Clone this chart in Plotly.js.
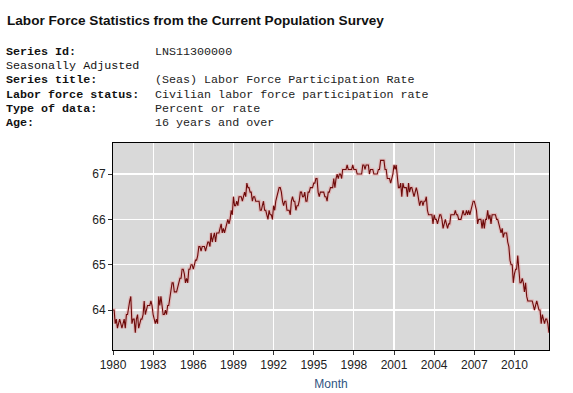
<!DOCTYPE html>
<html>
<head>
<meta charset="utf-8">
<script src="https://cdn.plot.ly/plotly-3.0.1.min.js"></script>
<style>
  html, body { margin: 0; padding: 0; background: #ffffff; }
  #chart { width: 573px; height: 393px; }
</style>
</head>
<body>
<div id="chart"></div>
<script>
// ---- Data (monthly, seasonally adjusted LFPR, Jan 1980 - Aug 2012) ----
var startYear = 1980;
var lfpr = [
  64.0,64.0,63.7,63.8,63.6,63.7,63.8,63.7,63.6,63.7,63.8,63.6, // 1980
  63.9,63.9,64.1,64.2,64.3,63.7,63.8,63.8,63.5,63.8,63.9,63.6, // 1981
  63.7,63.8,63.8,63.9,64.2,63.9,64.0,64.1,64.1,64.1,64.2,64.1, // 1982
  63.9,63.8,63.7,63.8,63.7,64.3,64.1,64.3,64.1,63.9,63.9,64.0, // 1983
  63.9,64.1,64.1,64.3,64.5,64.6,64.6,64.4,64.4,64.4,64.5,64.6, // 1984
  64.7,64.7,64.9,64.9,64.8,64.6,64.7,64.6,64.9,64.9,65.0,65.0, // 1985
  64.9,65.0,65.1,65.1,65.2,65.4,65.4,65.3,65.4,65.4,65.4,65.3, // 1986
  65.4,65.5,65.5,65.4,65.7,65.5,65.6,65.7,65.5,65.7,65.7,65.7, // 1987
  65.8,65.9,65.7,65.8,65.7,65.8,65.9,66.0,65.9,66.0,66.2,66.1, // 1988
  66.5,66.3,66.3,66.4,66.3,66.5,66.5,66.5,66.4,66.5,66.6,66.5, // 1989
  66.8,66.7,66.7,66.6,66.6,66.4,66.5,66.5,66.4,66.4,66.4,66.4, // 1990
  66.2,66.2,66.3,66.4,66.2,66.2,66.1,66.0,66.2,66.1,66.1,66.0, // 1991
  66.3,66.2,66.4,66.5,66.6,66.7,66.7,66.6,66.4,66.3,66.4,66.4, // 1992
  66.2,66.2,66.2,66.1,66.4,66.5,66.4,66.4,66.2,66.3,66.3,66.4, // 1993
  66.6,66.6,66.5,66.5,66.6,66.4,66.4,66.6,66.6,66.7,66.7,66.7, // 1994
  66.8,66.8,66.9,66.9,66.6,66.5,66.6,66.6,66.6,66.6,66.5,66.5, // 1995
  66.4,66.6,66.6,66.7,66.7,66.7,66.9,66.7,66.9,67.0,66.9,67.0, // 1996
  67.0,66.9,67.1,67.1,67.1,67.1,67.2,67.1,67.1,67.1,67.1,67.2, // 1997
  67.1,67.1,67.1,67.0,67.0,67.0,67.0,67.0,67.2,67.2,67.1,67.2, // 1998
  67.2,67.2,67.0,67.1,67.1,67.1,67.0,67.0,67.0,67.0,67.1,67.1, // 1999
  67.3,67.3,67.3,67.3,67.1,67.1,66.9,66.9,66.9,66.8,66.9,67.0, // 2000
  67.2,67.1,67.2,66.9,66.7,66.7,66.8,66.5,66.8,66.7,66.7,66.7, // 2001
  66.5,66.8,66.6,66.7,66.7,66.6,66.5,66.6,66.7,66.6,66.4,66.3, // 2002
  66.4,66.4,66.3,66.4,66.4,66.5,66.2,66.1,66.1,66.1,66.1,65.9, // 2003
  66.1,66.0,66.0,65.9,66.0,66.1,66.1,66.0,65.8,65.9,66.0,65.9, // 2004
  65.8,65.9,65.9,66.1,66.1,66.1,66.1,66.2,66.1,66.1,66.0,66.0, // 2005
  66.0,66.1,66.2,66.1,66.1,66.2,66.1,66.2,66.1,66.2,66.3,66.4, // 2006
  66.4,66.3,66.2,65.9,66.0,66.0,66.0,65.8,66.0,65.8,66.0,66.0, // 2007
  66.2,66.0,66.1,65.9,66.1,66.1,66.1,66.1,66.0,66.0,65.9,65.8, // 2008
  65.7,65.8,65.6,65.7,65.7,65.7,65.5,65.4,65.1,65.0,65.0,64.6, // 2009
  64.8,64.9,64.9,65.2,64.9,64.6,64.6,64.7,64.6,64.4,64.6,64.3, // 2010
  64.2,64.2,64.2,64.2,64.2,64.1,64.0,64.1,64.2,64.1,64.0,64.0, // 2011
  63.7,63.9,63.8,63.7,63.8,63.8,63.7,63.5                      // 2012
];

var xTickYears = ['1980','1983','1986','1989','1992','1995','1998','2001','2004','2007','2010'];
var yTickVals = [64, 65, 66, 67];

var headingText = 'Labor Force Statistics from the Current Population Survey';
var metaLabels = ['Series Id:', 'Seasonally Adjusted', 'Series title:', 'Labor force status:', 'Type of data:', 'Age:'];
var metaValues = ['LNS11300000', '', '(Seas) Labor Force Participation Rate', 'Civilian labor force participation rate', 'Percent or rate', '16 years and over'];
var metaBold = [true, false, true, true, true, true];
var xAxisTitle = 'Month';

// ---- Build dates (category axis for the monthly series) ----
var dates = [];
for (var i = 0; i < lfpr.length; i++) {
  var y = startYear + Math.floor(i / 12);
  var m = (i % 12) + 1;
  dates.push(y + '-' + (m < 10 ? '0' + m : m) + '-01');
}
var tickVals = xTickYears.map(function (y) { return y + '-01-01'; });

// ---- Pixel helpers for text placed outside the plot area ----
var W = 573, H = 393;
var mL = 113, mR = 24, mT = 143, mB = 43;
var pw = W - mL - mR, ph = H - mT - mB;
function px(x) { return (x - mL) / pw; }
function py(y) { return (H - mB - y) / ph; }

var annotations = [];
annotations.push({
  text: '<b>' + headingText + '</b>',
  xref: 'paper', yref: 'paper', x: px(5), y: py(20),
  xanchor: 'left', yanchor: 'middle', showarrow: false,
  font: { family: 'Liberation Sans, Arial, sans-serif', size: 13.6, color: '#111111' }
});
var metaY = [51.7, 66.0, 80.3, 94.6, 108.9, 123.2];
for (var k = 0; k < metaLabels.length; k++) {
  annotations.push({
    text: metaBold[k] ? '<b>' + metaLabels[k] + '</b>' : metaLabels[k],
    xref: 'paper', yref: 'paper', x: px(4), y: py(metaY[k]),
    xanchor: 'left', yanchor: 'middle', showarrow: false,
    font: { family: 'Liberation Mono, Courier New, monospace', size: 11.7, color: '#111111' }
  });
  if (metaValues[k]) {
    annotations.push({
      text: metaValues[k],
      xref: 'paper', yref: 'paper', x: px(153), y: py(metaY[k]),
      xanchor: 'left', yanchor: 'middle', showarrow: false,
      font: { family: 'Liberation Mono, Courier New, monospace', size: 11.7, color: '#222222' }
    });
  }
}

var traces = [
  {
    x: dates, y: lfpr, type: 'scatter', mode: 'lines',
    line: { color: 'rgba(235,130,130,0.35)', width: 3.5 },
    hoverinfo: 'skip', showlegend: false
  },
  {
    x: dates, y: lfpr, type: 'scatter', mode: 'lines',
    line: { color: '#6e0b0b', width: 1.1 },
    name: 'LFPR', showlegend: false
  }
];

var layout = {
  width: W, height: H,
  margin: { l: mL, r: mR, t: mT, b: mB, pad: 0 },
  paper_bgcolor: '#ffffff',
  plot_bgcolor: '#d9d9d9',
  showlegend: false,
  xaxis: {
    type: 'date',
    range: [dates[0], dates[dates.length - 1]],
    tickmode: 'array', tickvals: tickVals, ticktext: xTickYears,
    showgrid: true, gridcolor: '#ffffff', gridwidth: 1.2,
    zeroline: false,
    showline: true, linecolor: '#000000', linewidth: 1, mirror: true,
    ticks: 'outside', ticklen: 4, tickcolor: '#333333',
    tickfont: { family: 'Liberation Sans, Arial, sans-serif', size: 12, color: '#222222' },
    title: { text: xAxisTitle, standoff: 8,
             font: { family: 'Liberation Sans, Arial, sans-serif', size: 12, color: '#2f5482' } },
    automargin: false
  },
  yaxis: {
    range: [63.118, 67.684],
    tickmode: 'array', tickvals: yTickVals, ticktext: yTickVals.map(String),
    showgrid: true, gridcolor: '#ffffff', gridwidth: 1.2,
    zeroline: false,
    showline: true, linecolor: '#000000', linewidth: 1, mirror: true,
    ticks: 'outside', ticklen: 4, tickcolor: '#333333',
    tickfont: { family: 'Liberation Sans, Arial, sans-serif', size: 12, color: '#222222' },
    automargin: false
  },
  annotations: annotations
};

Plotly.newPlot('chart', traces, layout, { displayModeBar: false, staticPlot: true });
</script>
</body>
</html>
